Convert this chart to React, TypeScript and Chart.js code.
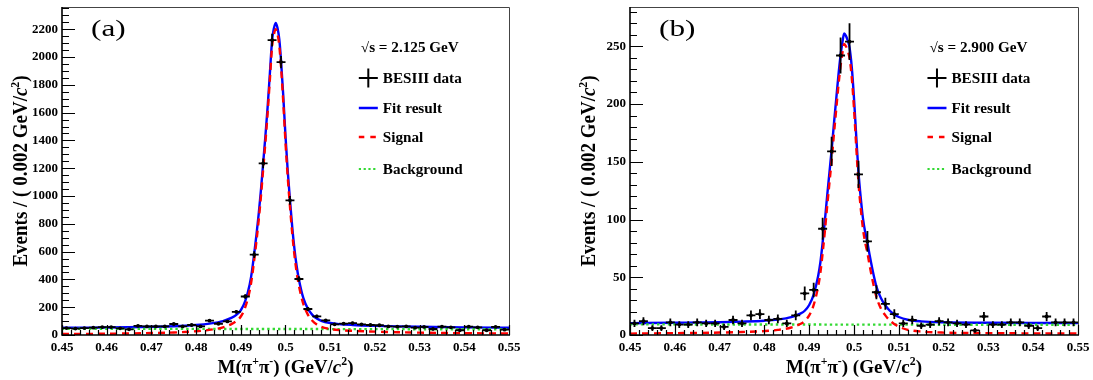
import React, { useEffect, useRef } from "react";
import { Chart, registerables } from "chart.js";
Chart.register(...registerables);

// ---------------- data ----------------
const binCenters = [
  0.451, 0.453, 0.455, 0.457, 0.459, 0.461, 0.463, 0.465, 0.467, 0.469,
  0.471, 0.473, 0.475, 0.477, 0.479, 0.481, 0.483, 0.485, 0.487, 0.489,
  0.491, 0.493, 0.495, 0.497, 0.499, 0.501, 0.503, 0.505, 0.507, 0.509,
  0.511, 0.513, 0.515, 0.517, 0.519, 0.521, 0.523, 0.525, 0.527, 0.529,
  0.531, 0.533, 0.535, 0.537, 0.539, 0.541, 0.543, 0.545, 0.547, 0.549,
];
const binHalfWidth = 0.001;

// panel (a): sqrt(s) = 2.125 GeV
const countsA = [
  50, 46, 50, 53, 57, 57, 48, 41, 65, 62,
  62, 62, 79, 62, 72, 62, 103, 81, 98, 167,
  277, 578, 1235, 2122, 1964, 969, 403, 187, 134, 105,
  77, 82, 86, 77, 72, 70, 62, 60, 62, 53,
  58, 43, 60, 55, 34, 60, 55, 34, 58, 38,
];
const curveXA = [
  0.45, 0.455, 0.46, 0.465, 0.47, 0.475, 0.48,
  0.483, 0.486, 0.488, 0.489, 0.49,
  0.491, 0.492, 0.4925, 0.493, 0.4935, 0.494, 0.4945, 0.495,
  0.4955, 0.496, 0.4965, 0.497, 0.4974, 0.4978, 0.4982, 0.4986, 0.499,
  0.4995, 0.5, 0.5005, 0.501, 0.5015, 0.502, 0.5025, 0.503,
  0.504, 0.505, 0.506, 0.507, 0.508,
  0.51, 0.512, 0.515, 0.52, 0.525, 0.53, 0.54, 0.55,
];
const fitA = [
  52, 53, 54, 56, 59, 63, 72,
  82, 100, 125, 145, 178,
  245, 365, 460, 585, 720, 870, 1040, 1235,
  1430, 1640, 1880, 2120, 2205, 2245, 2210, 2130, 1975,
  1720, 1430, 1180, 970, 780, 620, 495, 400,
  265, 190, 145, 118, 102,
  86, 78, 72, 66, 62, 59, 55, 52,
];
const signalA = [
  7, 8, 9, 11, 14, 18, 27,
  37, 55, 80, 100, 133,
  200, 320, 415, 540, 675, 825, 995, 1190,
  1385, 1595, 1835, 2075, 2160, 2200, 2165, 2085, 1930,
  1675, 1385, 1135, 925, 735, 575, 450, 355,
  222, 147, 102, 75, 59,
  43, 35, 30, 24, 20, 17, 13, 11,
];
const bkgXA = [0.45, 0.55];
const bkgA = [45, 41];

// panel (b): sqrt(s) = 2.900 GeV
const countsB = [
  10, 12, 6, 6, 11, 9, 9, 11, 10, 10,
  7, 13, 10, 17, 18, 13, 14, 10, 17, 36,
  39, 92, 159, 242, 254, 139, 81, 37, 27, 18,
  10, 13, 8, 9, 12, 11, 10, 9, 4, 16,
  9, 9, 11, 11, 8, 6, 16, 11, 11, 11,
];
const curveXB = [
  0.45, 0.46, 0.47, 0.475, 0.48,
  0.483, 0.486, 0.488, 0.489, 0.49,
  0.491, 0.492, 0.4925, 0.493, 0.4935, 0.494, 0.4945, 0.495,
  0.4955, 0.496, 0.4965, 0.497, 0.4974, 0.4978, 0.4982, 0.4986, 0.499,
  0.4995, 0.5, 0.5005, 0.501, 0.5015, 0.502, 0.5025, 0.503, 0.5035, 0.504,
  0.505, 0.506, 0.507, 0.508, 0.509, 0.51,
  0.512, 0.515, 0.52, 0.53, 0.54, 0.55,
];
const fitB = [
  10.2, 10.6, 11.1, 11.6, 12.4,
  13.4, 15.5, 18.5, 21, 26,
  35, 51, 63, 80, 99, 120, 140, 160,
  182, 203, 224, 242, 253, 261, 259, 255, 249,
  232, 205, 172, 141, 119, 101, 89, 80, 69, 59,
  42, 32, 25.5, 21, 17.8, 15.6,
  13.2, 11.8, 11, 10.6, 10.4, 10.3,
];
const signalB = [
  1.2, 1.6, 2.1, 2.6, 3.4,
  4.4, 6.5, 9.5, 12, 17,
  26, 42, 54, 71, 90, 111, 131, 151,
  173, 194, 215, 233, 244, 252, 250, 246, 240,
  223, 196, 163, 132, 110, 92, 80, 71, 60, 50,
  33, 23, 17, 12.5, 9.5, 7.2,
  4.5, 3, 2.1, 1.6, 1.4, 1.3,
];
const bkgXB = [0.45, 0.55];
const bkgB = [9.2, 8.8];

const xMin = 0.45;
const xMax = 0.55;
const xMajorStep = 0.01;
const xMinorStep = 0.002;

const legendLabels = ["BESIII data", "Fit result", "Signal", "Background"];

// ---------------- drawing helpers ----------------
const SERIF = '"Liberation Serif", "Times New Roman", serif';

interface Seg { t: string; it?: boolean; sup?: boolean }

function segFont(s: Seg, size: number, weight: string) {
  const sz = s.sup ? size * 0.62 : size;
  return `${s.it ? "italic " : ""}${weight} ${sz}px ${SERIF}`;
}

function drawRich(
  ctx: CanvasRenderingContext2D,
  segs: Seg[],
  x: number,
  y: number,
  size: number,
  weight: string,
  align: "left" | "center",
  sx = 1,
  sy = 1,
  rotate = 0
) {
  ctx.save();
  ctx.translate(x, y);
  if (rotate) ctx.rotate(rotate);
  ctx.scale(sx, sy);
  ctx.textAlign = "left";
  ctx.textBaseline = "alphabetic";
  ctx.fillStyle = "#000";
  const widths = segs.map((s) => {
    ctx.font = segFont(s, size, weight);
    return ctx.measureText(s.t).width;
  });
  const total = widths.reduce((a, b) => a + b, 0);
  let cx = align === "center" ? -total / 2 : 0;
  segs.forEach((s, i) => {
    ctx.font = segFont(s, size, weight);
    ctx.fillText(s.t, cx, s.sup ? -size * 0.4 : 0);
    cx += widths[i];
  });
  ctx.restore();
}

interface Panel {
  tag: string;
  energy: string;
  counts: number[];
  curveX: number[];
  fit: number[];
  signal: number[];
  bkgX: number[];
  bkg: number[];
  yMax: number;
  yStep: number;
  yMinor: number;
  italicC: boolean;
}

const panelA: Panel = {
  tag: "(a)", energy: "2.125", counts: countsA, curveX: curveXA, fit: fitA, signal: signalA,
  bkgX: bkgXA, bkg: bkgA, yMax: 2360, yStep: 200, yMinor: 50, italicC: true,
};
const panelB: Panel = {
  tag: "(b)", energy: "2.900", counts: countsB, curveX: curveXB, fit: fitB, signal: signalB,
  bkgX: bkgXB, bkg: bkgB, yMax: 284, yStep: 50, yMinor: 10, italicC: false,
};

const BLUE = "#0000ff";
const RED = "#ff0000";
const GREEN = "#33d933";

function decorPlugin(p: Panel) {
  return {
    id: "rootDecor",
    afterDatasetsDraw(chart: any) {
      const { ctx, chartArea: a, scales } = chart;
      const x = scales.x, y = scales.y;
      ctx.save();
      ctx.beginPath();
      ctx.rect(a.left, a.top, a.right - a.left, a.bottom - a.top);
      ctx.clip();
      ctx.setLineDash([]);
      ctx.strokeStyle = "#000";
      ctx.lineWidth = 1.8;
      binCenters.forEach((bc, i) => {
        const c = p.counts[i];
        const e = Math.sqrt(c);
        const px = x.getPixelForValue(bc);
        const py = y.getPixelForValue(c);
        const x0 = x.getPixelForValue(bc - binHalfWidth);
        const x1 = x.getPixelForValue(bc + binHalfWidth);
        const y0 = y.getPixelForValue(Math.max(0, c - e));
        const y1 = y.getPixelForValue(c + e);
        ctx.beginPath();
        ctx.moveTo(x0, py);
        ctx.lineTo(x1, py);
        ctx.moveTo(px, y0);
        ctx.lineTo(px, y1);
        ctx.stroke();
      });
      ctx.restore();
    },
    afterDraw(chart: any) {
      const { ctx, chartArea: a, scales } = chart;
      const x = scales.x, y = scales.y;
      const W = a.right - a.left;
      ctx.save();
      ctx.setLineDash([]);
      // frame
      ctx.strokeStyle = "#444";
      ctx.lineWidth = 1;
      ctx.beginPath();
      ctx.moveTo(a.left, a.top + 0.5);
      ctx.lineTo(a.right + 0.5, a.top + 0.5);
      ctx.lineTo(a.right + 0.5, a.bottom);
      ctx.stroke();
      ctx.strokeStyle = "#000";
      ctx.lineWidth = 1.6;
      ctx.beginPath();
      ctx.moveTo(a.left, a.top);
      ctx.lineTo(a.left, a.bottom);
      ctx.lineTo(a.right + 1, a.bottom);
      ctx.stroke();
      // ticks (inside)
      ctx.lineWidth = 1.2;
      ctx.beginPath();
      const nx = Math.round((xMax - xMin) / xMinorStep);
      const perMajorX = Math.round(xMajorStep / xMinorStep);
      for (let i = 0; i <= nx; i++) {
        const v = xMin + i * xMinorStep;
        const px = Math.round(x.getPixelForValue(v)) + 0.5;
        const major = i % perMajorX === 0;
        ctx.moveTo(px, a.bottom);
        ctx.lineTo(px, a.bottom - (major ? 10 : 5));
      }
      const ny = Math.floor(p.yMax / p.yMinor + 1e-9);
      const perMajorY = Math.round(p.yStep / p.yMinor);
      for (let i = 0; i <= ny; i++) {
        const v = i * p.yMinor;
        const py = Math.round(y.getPixelForValue(v)) + 0.5;
        const major = i % perMajorY === 0;
        ctx.moveTo(a.left, py);
        ctx.lineTo(a.left + (major ? 13 : 7), py);
      }
      ctx.stroke();
      ctx.restore();

      // axis titles
      drawRich(
        ctx,
        [{ t: "M(π" }, { t: "+", sup: true }, { t: "π" }, { t: "-", sup: true }, { t: ") (GeV/" },
          { t: "c", it: p.italicC }, { t: "2", sup: true }, { t: ")" }],
        (a.left + a.right) / 2, 373, 19, "bold", "center"
      );
      drawRich(
        ctx,
        [{ t: "Events / ( 0.002 GeV/" }, { t: "c", it: true }, { t: "2", sup: true }, { t: ")" }],
        a.left - 35, (a.top + a.bottom) / 2, 19, "bold", "center", 1, 1.08, -Math.PI / 2
      );
      // panel tag
      drawRich(ctx, [{ t: p.tag }], a.left + 0.065 * W, a.top + 29, 24, "normal", "left", 1.3, 1);

      // legend
      const lx = a.left + 0.664 * W;
      const mw = 19;
      const tx = lx + 24;
      const rows = [a.top + 40, a.top + 71, a.top + 101, a.top + 130, a.top + 162];
      const fs = 14;
      const lsx = 1.085;
      drawRich(ctx, [{ t: "√s = " + p.energy + " GeV" }], lx + 2, rows[0] + 5, fs, "bold", "left", lsx);
      ctx.save();
      // data marker
      const r1 = rows[1];
      ctx.strokeStyle = "#000";
      ctx.lineWidth = 2;
      ctx.beginPath();
      ctx.moveTo(lx, r1);
      ctx.lineTo(lx + mw, r1);
      ctx.moveTo(lx + mw / 2, r1 - 9.5);
      ctx.lineTo(lx + mw / 2, r1 + 9.5);
      ctx.stroke();
      // fit
      const r2 = rows[2];
      ctx.strokeStyle = BLUE;
      ctx.lineWidth = 2.5;
      ctx.beginPath();
      ctx.moveTo(lx, r2);
      ctx.lineTo(lx + mw, r2);
      ctx.stroke();
      // signal
      const r3 = rows[3];
      ctx.strokeStyle = RED;
      ctx.setLineDash([5.5, 6]);
      ctx.beginPath();
      ctx.moveTo(lx, r3);
      ctx.lineTo(lx + mw, r3);
      ctx.stroke();
      // background
      const r4 = rows[4];
      ctx.strokeStyle = GREEN;
      ctx.lineWidth = 2.2;
      ctx.setLineDash([2.2, 2.6]);
      ctx.beginPath();
      ctx.moveTo(lx, r4);
      ctx.lineTo(lx + mw, r4);
      ctx.stroke();
      ctx.restore();
      legendLabels.forEach((lab, i) => {
        drawRich(ctx, [{ t: lab }], tx, rows[i + 1] + 5, fs, "bold", "left", lsx);
      });
    },
  };
}

function fmtX(v: any) {
  const s = Number(v).toFixed(2);
  return s.replace(/0+$/, "").replace(/\.$/, "");
}

function makeChart(canvas: HTMLCanvasElement, p: Panel, padL: number, padR: number) {
  const tickFont = { family: SERIF, size: 13, weight: "bold" as const };
  return new Chart(canvas, {
    type: "scatter",
    data: {
      datasets: [
        {
          type: "scatter",
          label: legendLabels[0],
          data: binCenters.map((x, i) => ({ x, y: p.counts[i] })),
          pointRadius: 1.9,
          pointBackgroundColor: "#000",
          pointBorderWidth: 0,
          order: 0,
        } as any,
        {
          type: "line",
          label: legendLabels[2],
          data: p.curveX.map((x, i) => ({ x, y: p.signal[i] })),
          borderColor: RED,
          borderWidth: 2.4,
          borderDash: [7, 5],
          pointRadius: 0,
          cubicInterpolationMode: "monotone",
          fill: false,
          order: 1,
        },
        {
          type: "line",
          label: legendLabels[3],
          data: p.bkgX.map((x, i) => ({ x, y: p.bkg[i] })),
          borderColor: GREEN,
          borderWidth: 2.4,
          borderDash: [2.4, 3],
          pointRadius: 0,
          fill: false,
          order: 2,
        },
        {
          type: "line",
          label: legendLabels[1],
          data: p.curveX.map((x, i) => ({ x, y: p.fit[i] })),
          borderColor: BLUE,
          borderWidth: 2.4,
          pointRadius: 0,
          cubicInterpolationMode: "monotone",
          fill: false,
          order: 3,
        },
      ],
    },
    options: {
      responsive: false,
      animation: false,
      devicePixelRatio: 1,
      events: [],
      layout: { padding: { left: padL, right: padR, top: 7, bottom: 0 } },
      plugins: { legend: { display: false }, tooltip: { enabled: false }, title: { display: false } },
      scales: {
        x: {
          type: "linear",
          min: xMin,
          max: xMax,
          grid: { display: false, drawTicks: false },
          border: { display: false },
          ticks: {
            stepSize: xMajorStep,
            autoSkip: false,
            maxTicksLimit: 50,
            maxRotation: 0,
            padding: 5,
            color: "#000",
            font: tickFont,
            callback: fmtX,
          },
          afterFit: (s: any) => {
            s.height = 45;
            s.paddingLeft = 0;
            s.paddingRight = 0;
          },
        },
        y: {
          type: "linear",
          min: 0,
          max: p.yMax,
          grid: { display: false, drawTicks: false },
          border: { display: false },
          ticks: {
            stepSize: p.yStep,
            includeBounds: false,
            autoSkip: false,
            maxTicksLimit: 50,
            padding: 4,
            color: "#000",
            font: tickFont,
            callback: (v: any) => String(Math.round(Number(v))),
          },
          afterBuildTicks: (s: any) => {
            const t: { value: number }[] = [];
            const n = Math.floor(p.yMax / p.yStep + 1e-9);
            for (let i = 0; i <= n; i++) t.push({ value: i * p.yStep });
            s.ticks = t;
          },
          afterFit: (s: any) => {
            s.width = 50;
            s.paddingTop = 0;
            s.paddingBottom = 0;
          },
        },
      },
    } as any,
    plugins: [decorPlugin(p)],
  });
}

export default function App() {
  const refA = useRef<HTMLCanvasElement>(null);
  const refB = useRef<HTMLCanvasElement>(null);
  useEffect(() => {
    const ca = makeChart(refA.current!, panelA, 12, 37);
    const cb = makeChart(refB.current!, panelB, 34, 15);
    return () => {
      ca.destroy();
      cb.destroy();
    };
  }, []);
  return (
    <div style={{ position: "absolute", left: 0, top: 0, width: 1093, height: 380, background: "#fff" }}>
      <canvas ref={refA} width={546} height={380} style={{ position: "absolute", left: 0, top: 0 }} />
      <canvas ref={refB} width={547} height={380} style={{ position: "absolute", left: 546, top: 0 }} />
    </div>
  );
}
